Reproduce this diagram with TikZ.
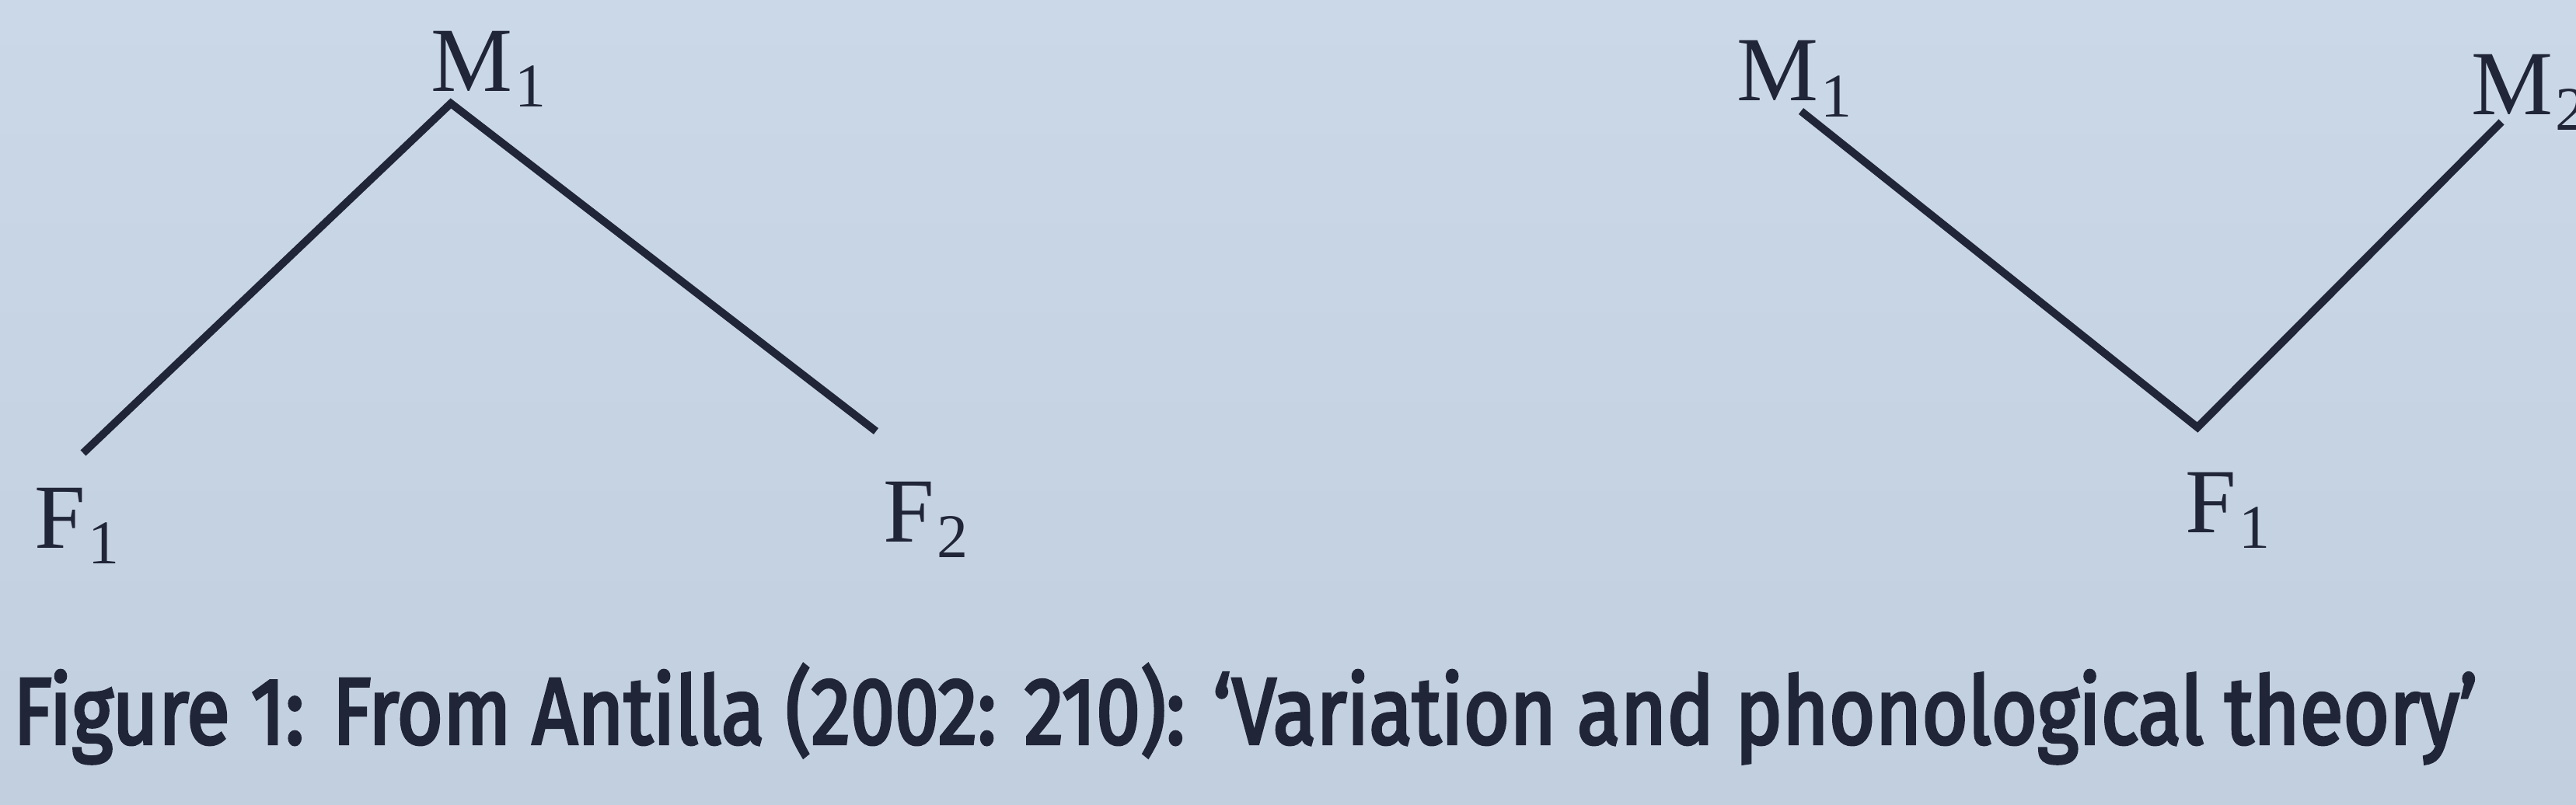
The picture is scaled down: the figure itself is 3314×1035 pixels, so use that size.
\documentclass[tikz,border=0pt]{standalone}
\usepackage{fontspec}
\setmainfont{Liberation Serif}
\newfontfamily\capfont[FakeBold=3.3]{Fira Sans}
\definecolor{paper}{RGB}{203,216,232}
\definecolor{paperlow}{RGB}{194,207,222}
\definecolor{ink}{RGB}{32,37,55}
\newcommand{\lowsub}[1]{\kern0.4pt\raisebox{-2pt}{\fontsize{8}{9}\selectfont #1}}
\begin{document}
\begin{tikzpicture}[x=0.1pt,y=-0.1pt,
  lbl/.style={inner sep=0pt, anchor=base west, font=\fontsize{11.8}{14}\selectfont, text=ink},
  edge/.style={draw=ink, line width=1pt, line join=miter, line cap=butt}]
\shade[top color=paper, bottom color=paperlow] (0,0) rectangle (3314,1035);
\useasboundingbox (0,0) rectangle (3314,1035);
% left tree
\node[lbl] (mA) at (552,117) {M\lowsub{1}};
\node[lbl] (fA) at (42,705) {F\lowsub{1}};
\node[lbl] (fB) at (1134,697) {F\lowsub{2}};
\coordinate (mAend) at (580,133);
\coordinate (fAend) at (107,583);
\coordinate (fBend) at (1127,555);
\draw[edge] (fAend) -- (mAend) -- (fBend);
% right tree
\node[lbl] (mB) at (2232,130) {M\lowsub{1}};
\node[lbl] (mC) at (3177,147) {M\lowsub{2}};
\node[lbl] (fC) at (2809,685) {F\lowsub{1}};
\coordinate (mBend) at (2317,143);
\coordinate (mCend) at (3218,157);
\coordinate (fCend) at (2827,550);
\draw[edge] (mBend) -- (fCend) -- (mCend);
% caption
\node[inner sep=0pt, anchor=base west, text=ink] (cap) at (15,957)
  {\resizebox{317pt}{\height}{\fontsize{12.1}{14}\selectfont\capfont Figure 1: From Antilla (2002: 210): ‘Variation and phonological theory’}};
\end{tikzpicture}
\end{document}
